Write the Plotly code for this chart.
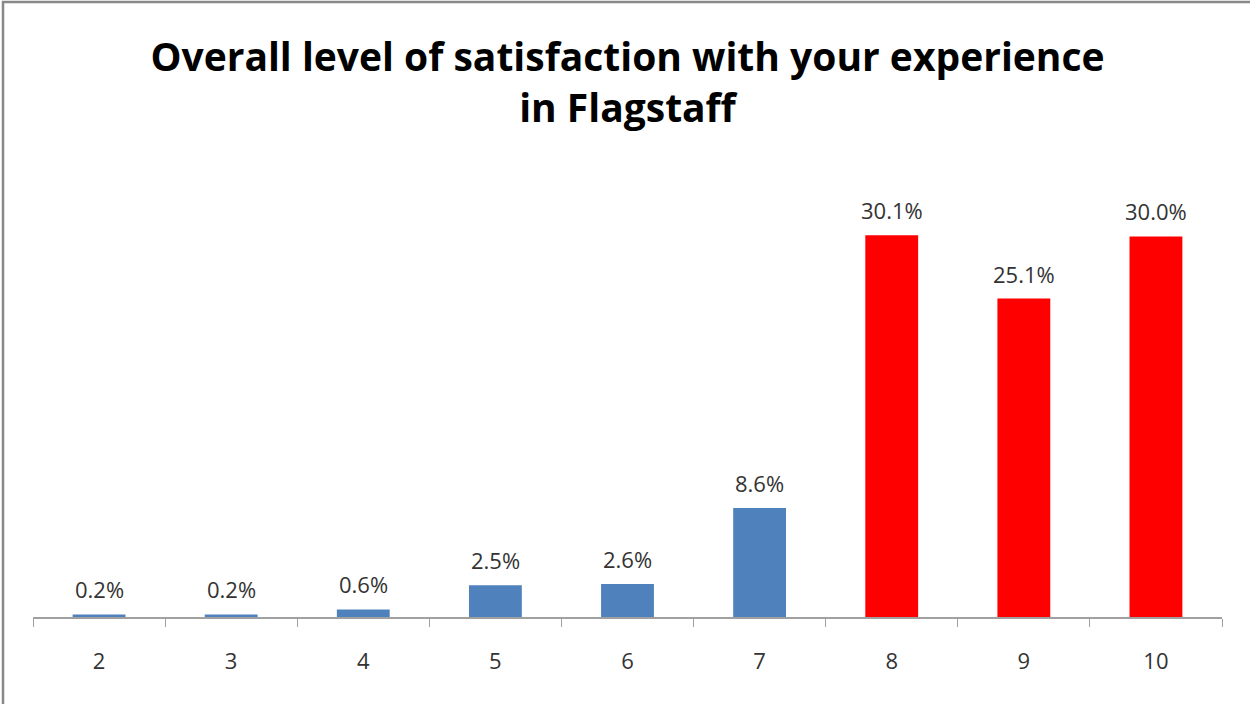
import plotly.graph_objects as go

# Survey responses (rating 2-10) and share of respondents
ratings = ["2", "3", "4", "5", "6", "7", "8", "9", "10"]
shares = [0.2, 0.2, 0.6, 2.5, 2.6, 8.6, 30.1, 25.1, 30.0]
labels = ["0.2%", "0.2%", "0.6%", "2.5%", "2.6%", "8.6%", "30.1%", "25.1%", "30.0%"]

BLUE = "#4F81BD"
RED = "#FF0000"
bar_colors = [RED if int(r) >= 8 else BLUE for r in ratings]

FONT = "Open Sans, Noto Sans, sans-serif"
W, H = 1250, 704
ml, mr, mt, mb = 33, 28, 173, 87

fig = go.Figure()
fig.add_trace(go.Bar(
    x=ratings, y=shares,
    marker=dict(color=bar_colors, line=dict(width=0)),
    width=0.4, hoverinfo="x+y",
))

# value labels above the bars (category axis -> use position index)
for i, (v, lab) in enumerate(zip(shares, labels)):
    fig.add_annotation(x=i, y=v, text=lab, showarrow=False,
                       yanchor="bottom", yshift=8,
                       font=dict(family=FONT, size=22, color="#333333"))

# frame around the chart (only top/left visible in the reference)
pw = W - ml - mr
ph = H - mt - mb
fig.add_shape(type="rect", xref="paper", yref="paper",
              x0=(3 - ml) / pw, x1=(W + 5 - ml) / pw,
              y0=-(H + 5 - mt - ph) / ph, y1=(ph + mt - 2) / ph,
              line=dict(color="#888888", width=2.5), fillcolor="rgba(0,0,0,0)", layer="below")

fig.update_layout(
    width=W, height=H,
    margin=dict(l=ml, r=mr, t=mt, b=mb),
    paper_bgcolor="white", plot_bgcolor="white",
    showlegend=False,
    title=dict(text="<b>Overall level of satisfaction with your experience<br>in Flagstaff</b>",
               x=0.5, xref="paper", xanchor="center", y=0.899, yanchor="middle",
               font=dict(family=FONT, size=39, color="black")),
    xaxis=dict(type="category", showline=True, linecolor="#A0A0A0", linewidth=1.5,
               ticks="outside", tickson="boundaries", ticklen=8, tickcolor="#A0A0A0",
               ticklabelstandoff=24,
               tickfont=dict(family=FONT, size=22, color="#333333"),
               showgrid=False, range=[-0.5, 8.5]),
    yaxis=dict(range=[0, 35], visible=False, showgrid=False, zeroline=False),
)

fig.write_html("out.html", config={"displayModeBar": False},
               post_script="document.body.style.margin='0';")
